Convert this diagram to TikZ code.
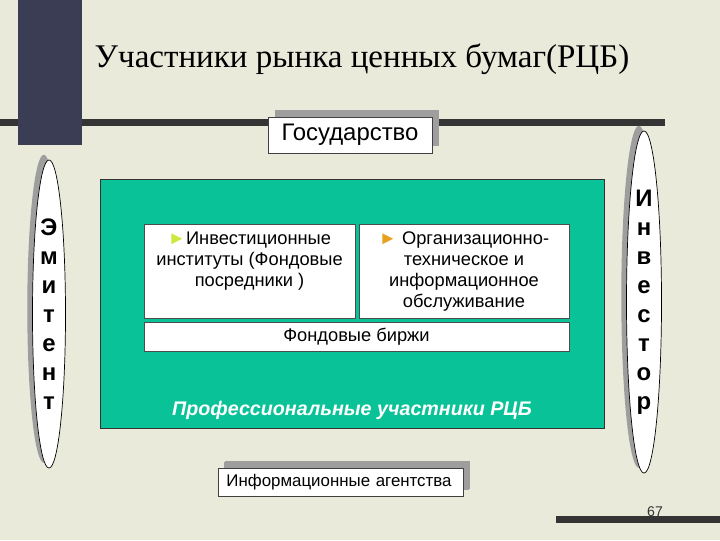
\documentclass[tikz,border=0pt]{standalone}
\usepackage{fontspec}
\setmainfont{Liberation Serif}
\setsansfont{Liberation Sans}
\usetikzlibrary{positioning,shapes.geometric,shadows}
\definecolor{slidebg}{RGB}{234,234,219}
\definecolor{slidebar}{RGB}{52,52,52}
\definecolor{slidenavy}{RGB}{58,61,84}
\definecolor{profgreen}{RGB}{10,194,152}
\definecolor{shadowgray}{RGB}{158,158,158}
\definecolor{markgreen}{RGB}{205,232,60}
\definecolor{markorange}{RGB}{232,160,30}

\begin{document}
\begin{tikzpicture}[x=0.025cm,y=-0.025cm,
  tagbox/.style={draw=black!75,fill=white,line width=0.5pt,
	 general shadow={fill=shadowgray,shadow xshift=0.17cm,shadow yshift=0.17cm}},
  cell/.style={draw=black!70,fill=white,line width=0.5pt},
  celltext/.style={inner sep=0pt,align=center,
	 font=\sffamily\fontsize{13}{14.9}\selectfont},
  actor/.style={ellipse,draw=black,fill=white,line width=0.5pt,inner sep=0pt,
	 align=center,font=\sffamily\bfseries\fontsize{17}{20.6}\selectfont,
	 general shadow={fill=shadowgray,shadow xshift=-0.13cm,shadow yshift=0.13cm}}]
\path[use as bounding box,fill=slidebg] (0,0) rectangle (720,540);
  \fill[slidebar] (0,119) rectangle (665,126);
  \fill[slidenavy] (18,0) rectangle (82,145);
  \fill[slidebar] (556,516) rectangle (720,523);
  \node[anchor=base,font=\fontsize{23.5}{28}\selectfont] (title) at (362,67)
	 {Участники рынка ценных бумаг(РЦБ)};
  \node[tagbox,minimum width=4.1cm,minimum height=0.9cm,
	 font=\sffamily\fontsize{17}{20}\selectfont] (gov) at (350,135) {Государство};
  \node[actor,minimum width=0.825cm,minimum height=7.7cm] (issuer) at (49,314)
	 {Э\\м\\и\\т\\е\\н\\т};
  \node[actor,minimum width=0.875cm,minimum height=8.55cm] (investor) at (644,302)
	 {И\\н\\в\\е\\с\\т\\о\\р};
  \node[draw=black!80,fill=profgreen,line width=0.6pt,
	 minimum width=12.6cm,minimum height=6.225cm] (prof) at (352,303.5) {};
  \node[cell,minimum width=5.275cm,minimum height=2.35cm] (inst) at (249.5,271) {};
  \node[cell,minimum width=5.25cm,minimum height=2.35cm] (serv) at (464,271) {};
  \node[cell,minimum width=10.625cm,minimum height=0.725cm,
	 font=\sffamily\fontsize{13}{15}\selectfont] (exch) at (356.5,336.5) {Фондовые биржи};
  \node[celltext,below=0.2cm of inst.north]
	 {{\color{markgreen}►}Инвестиционные\\институты (Фондовые\\посредники )};
  \node[celltext,below=0.2cm of serv.north]
	 {{\color{markorange}►} Организационно-\\техническое и\\информационное\\обслуживание};
  \node[text=white,font=\sffamily\bfseries\itshape\fontsize{14}{16}\selectfont]
	 (proflabel) at ([yshift=0.45cm]prof.south) {Профессиональные участники РЦБ};
  \node[tagbox,minimum width=6.125cm,minimum height=0.7cm,inner xsep=0.2cm,
	 text width=5.7cm,align=left,
	 general shadow={fill=shadowgray,shadow xshift=0.15cm,shadow yshift=0.15cm},
	 font=\sffamily\fontsize{12}{14}\selectfont] (agency) at (340.5,482)
	 {Информационные агентства};
  \node[font=\sffamily\fontsize{10}{12}\selectfont,text=black!80] (page) at (655,512) {67};
\end{tikzpicture}
\end{document}
